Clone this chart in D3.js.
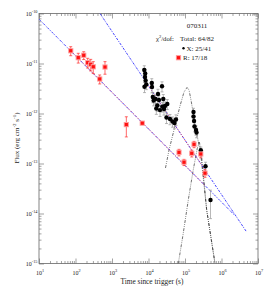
<!DOCTYPE html>
<html>
<head>
<meta charset="utf-8">
<script src="https://cdn.jsdelivr.net/npm/d3@7"></script>
<style>
body { margin: 0; background: #fff; }
svg text { font-family: "Liberation Serif", "DejaVu Serif", serif; fill: #222; }
</style>
</head>
<body>
<div id="chart"></div>
<script>
// X-ray points: time (s), flux (erg cm^-2 s^-1), error
var xrtTime = [7670, 8130, 8020, 8330, 8710, 7770, 12300, 12470, 13120, 13800, 15560, 18200,
  17420, 16370, 19400, 23440, 25410, 20650, 23880, 28310, 32730, 26600, 31120, 38810,
  45470, 51560, 56650, 1.71e5, 1.71e5, 1.77e5, 1.82e5, 2.0e5, 2.07e5, 2.71e5, 3.65e5, 5.0e5];
var xrtFlux = [7.41e-12, 6.31e-12, 5.37e-12, 4.57e-12, 3.80e-12, 3.42e-12, 4.07e-12, 3.39e-12,
  2.14e-12, 1.82e-12, 1.95e-12, 2.45e-12, 1.45e-12, 1.26e-12, 1.86e-12, 3.50e-12, 1.95e-12,
  1.17e-12, 1.37e-12, 1.41e-12, 1.55e-12, 1.23e-12, 8.3e-13, 7.76e-13, 6.92e-13, 6.46e-13,
  7.59e-13, 1.07e-12, 8.71e-13, 7.08e-13, 5.50e-13, 4.68e-13, 4.17e-13, 1.84e-13, 8.8e-14, 1.86e-14];
var xrtErr = [1.6e-12, 1.3e-12, 1.2e-12, 1.0e-12, 0.8e-12, 0.8e-12, 0.9e-12, 0.8e-12, 0.5e-12,
  0.4e-12, 0.4e-12, 0.6e-12, 0.35e-12, 0.3e-12, 0.45e-12, 0.8e-12, 0.45e-12, 0.3e-12, 0.3e-12,
  0.3e-12, 0.35e-12, 0.3e-12, 2.0e-13, 1.8e-13, 1.6e-13, 1.5e-13, 1.8e-13, 2.0e-13, 1.8e-13,
  1.5e-13, 1.2e-13, 1.0e-13, 0.9e-13, 0.3e-13, 1.8e-14, 1.07e-14];

// R band points
var rTime = [74, 119, 168, 216, 261, 307, 460, 643, 2470, 6760, 6.85e4, 9.4e4, 1.53e5, 1.77e5, 2.7e5, 3.53e5];
var rFlux = [1.80e-11, 1.31e-11, 1.46e-11, 1.04e-11, 9.6e-12, 8.6e-12, 4.9e-12, 8.5e-12,
  6.0e-13, 6.4e-13, 1.67e-13, 1.06e-13, 1.60e-13, 2.42e-13, 1.55e-13, 6.4e-14];
var rErr = [3.7e-12, 2.9e-12, 2.6e-12, 2.3e-12, 2.5e-12, 2.3e-12, 1.0e-12, 2.4e-12,
  2.6e-13, 0.4e-13, 0.25e-13, 0.15e-13, 0.25e-13, 0.35e-13, 0.25e-13, 1.1e-14];

// power-law components (end points)
var pl1Time = [10, 2.3e6];
var pl1Flux = [7.7e-11, 9.2e-15];
var pl2Time = [469, 4.7e6];
var pl2Flux = [1e-10, 4.45e-15];

// flare components
var flare1Time = [2.92e4, 3.65e4, 4.41e4, 5.66e4, 7.29e4, 9.4e4, 1.135e5, 1.29e5, 1.46e5,
  1.66e5, 1.94e5, 2.27e5, 2.66e5, 3.93e5, 6.64e5];
var flare1Flux = [8.13e-14, 1.86e-13, 3.24e-13, 6.76e-13, 1.41e-12, 2.69e-12, 3.31e-12, 2.95e-12,
  1.86e-12, 1.07e-12, 5.62e-13, 2.95e-13, 1.70e-13, 1.17e-14, 1e-15];
var flare2Time = [6.55e4, 8.81e4, 1.23e5, 1.66e5, 2.17e5, 2.47e5, 2.74e5, 3.93e5, 6.64e5];
var flare2Flux = [1e-15, 3.72e-15, 1.86e-14, 7.08e-14, 2.01e-13, 2.69e-13, 1.86e-13, 1.17e-14, 1e-15];

var xMajor = [1e1, 1e2, 1e3, 1e4, 1e5, 1e6, 1e7];
var yMajor = [1e-10, 1e-11, 1e-12, 1e-13, 1e-14, 1e-15];

var W = 270, H = 291;
var pl = 39, pr = 258, pt = 13.5, pb = 263.5;

var x = d3.scaleLog().domain([10, 1e7]).range([pl, pr]);
var y = d3.scaleLog().domain([1e-10, 1e-15]).range([pt, pb]);

var svg = d3.select("#chart").append("svg")
  .attr("width", W)
  .attr("height", H);

// minor ticks 2..9 in each decade
function minors(majors) {
  var out = [];
  majors.forEach(function (m) {
    if (m === d3.max(majors)) return;
    for (var k = 2; k <= 9; k++) out.push(m * k);
  });
  return out;
}
var xMinor = minors(xMajor);
var yMinor = minors(yMajor);

function ticks(axis, tx, ty, vals, size) {
  svg.append("g")
    .attr("transform", "translate(" + tx + "," + ty + ")")
    .call(axis.tickValues(vals).tickSize(size).tickFormat(""))
    .call(function (g) { g.select(".domain").remove(); })
    .selectAll("line")
    .attr("stroke", "#666")
    .attr("stroke-width", 0.6);
}
ticks(d3.axisBottom(x), 0, pb, xMajor, -5);
ticks(d3.axisBottom(x), 0, pb, xMinor, -2.5);
ticks(d3.axisTop(x), 0, pt, xMajor, -5);
ticks(d3.axisTop(x), 0, pt, xMinor, -2.5);
ticks(d3.axisLeft(y), pl, 0, yMajor, -5);
ticks(d3.axisLeft(y), pl, 0, yMinor, -2.5);
ticks(d3.axisRight(y), pr, 0, yMajor, -5);
ticks(d3.axisRight(y), pr, 0, yMinor, -2.5);

svg.append("rect")
  .attr("x", pl).attr("y", pt)
  .attr("width", pr - pl).attr("height", pb - pt)
  .attr("fill", "none").attr("stroke", "#666").attr("stroke-width", 0.8);

// tick labels
xMajor.forEach(function (v) {
  var t = svg.append("text")
    .attr("x", x(v) + 1).attr("y", 275)
    .attr("text-anchor", "middle").attr("font-size", 6);
  t.append("tspan").text("10");
  t.append("tspan").attr("dy", -2.6).attr("font-size", 4.3).text(Math.round(Math.log10(v)));
});
yMajor.forEach(function (v) {
  var t = svg.append("text")
    .attr("x", 37.5).attr("y", y(v) + 2)
    .attr("text-anchor", "end").attr("font-size", 6);
  t.append("tspan").text("10");
  t.append("tspan").attr("dy", -2.6).attr("font-size", 4.3).text(Math.round(Math.log10(v)));
});

// axis titles
svg.append("text")
  .attr("x", 152).attr("y", 283.5)
  .attr("text-anchor", "middle").attr("font-size", 7.3)
  .text("Time since trigger (s)");

var yt = svg.append("text")
  .attr("transform", "translate(18.5,138) rotate(-90)")
  .attr("text-anchor", "middle").attr("font-size", 7);
yt.append("tspan").text("Flux (erg  cm");
yt.append("tspan").attr("dy", -2.5).attr("font-size", 5).text("-2");
yt.append("tspan").attr("dy", 2.5).text(" s");
yt.append("tspan").attr("dy", -2.5).attr("font-size", 5).text("-1");
yt.append("tspan").attr("dy", 2.5).text(")");

// plot area
svg.append("clipPath").attr("id", "plot")
  .append("rect").attr("x", pl).attr("y", pt)
  .attr("width", pr - pl).attr("height", pb - pt);

var g = svg.append("g").attr("clip-path", "url(#plot)");

var line = d3.line()
  .x(function (d) { return x(d[0]); })
  .y(function (d) { return y(d[1]); });

function drawCurve(ts, fs, color, dash, w, clip) {
  g.append("path")
    .datum(d3.zip(ts, fs))
    .attr("d", line)
    .attr("fill", "none")
    .attr("stroke", color)
    .attr("stroke-width", w)
    .attr("stroke-dasharray", dash)
    .attr("clip-path", clip || null);
}

// clip ranges for the red overlays
var rSpan = d3.extent(rTime);
svg.append("clipPath").attr("id", "rspan1")
  .append("rect").attr("x", x(rSpan[0])).attr("y", pt)
  .attr("width", x(rSpan[1]) - x(rSpan[0])).attr("height", pb - pt);
svg.append("clipPath").attr("id", "rspan2")
  .append("rect").attr("x", x(d3.min(xrtTime))).attr("y", pt)
  .attr("width", x(rSpan[1]) - x(d3.min(xrtTime))).attr("height", pb - pt);

drawCurve(flare1Time, flare1Flux, "#333", "3,1.2,0.8,1.2,0.8,1.2", 0.7);
drawCurve(flare2Time, flare2Flux, "#333", "3,1.2,0.8,1.2,0.8,1.2", 0.7);
drawCurve(pl1Time, pl1Flux, "#3030ff", "2.5,1.2,1,1.2", 0.9);
drawCurve(pl2Time, pl2Flux, "#3030ff", "2.5,1.2,1,1.2", 0.9);
drawCurve(pl1Time, pl1Flux, "#ff3030", "1,1.5", 0.7, "url(#rspan1)");
drawCurve(pl2Time, pl2Flux, "#ff3030", "1,1.5", 0.7, "url(#rspan2)");

// error bars
function errBars(ts, fs, es, color) {
  var d = d3.zip(ts, fs, es);
  var eb = g.append("g").attr("stroke", color).attr("stroke-width", 0.7);
  eb.selectAll("line.v").data(d).enter().append("line")
    .attr("x1", function (p) { return x(p[0]); })
    .attr("x2", function (p) { return x(p[0]); })
    .attr("y1", function (p) { return y(p[1] + p[2]); })
    .attr("y2", function (p) { return y(Math.max(p[1] - p[2], 1e-16)); });
  [1, -1].forEach(function (s) {
    eb.selectAll("line.c" + s).data(d).enter().append("line")
      .attr("x1", function (p) { return x(p[0]) - 1.5; })
      .attr("x2", function (p) { return x(p[0]) + 1.5; })
      .attr("y1", function (p) { return y(p[1] + s * p[2]); })
      .attr("y2", function (p) { return y(p[1] + s * p[2]); });
  });
}
errBars(xrtTime, xrtFlux, xrtErr, "#9a9a9a");
errBars(rTime, rFlux, rErr, "#ff2a2a");

g.selectAll("circle.x").data(d3.zip(xrtTime, xrtFlux)).enter().append("circle")
  .attr("cx", function (d) { return x(d[0]); })
  .attr("cy", function (d) { return y(d[1]); })
  .attr("r", 2.2)
  .attr("fill", "#000");

function rMarker(sel) {
  sel.append("rect").attr("x", -2.6).attr("y", -2.6).attr("width", 5.2).attr("height", 5.2)
    .attr("fill", "#ff9a9a");
  sel.append("rect").attr("x", -1.6).attr("y", -1.6).attr("width", 3.2).attr("height", 3.2)
    .attr("fill", "#ff1010");
}
g.selectAll("g.r").data(d3.zip(rTime, rFlux)).enter().append("g")
  .attr("transform", function (d) { return "translate(" + x(d[0]) + "," + y(d[1]) + ")"; })
  .call(rMarker);

// legend
svg.append("text").attr("x", 197).attr("y", 27.5)
  .attr("text-anchor", "middle").attr("font-size", 7).text("070311");
var chi = svg.append("text").attr("x", 156).attr("y", 40.5).attr("font-size", 6.7);
chi.append("tspan").text("\u03c7");
chi.append("tspan").attr("dy", -2.5).attr("font-size", 4.6).text("2");
chi.append("tspan").attr("dy", 2.5).text("/dof:");
svg.append("text").attr("x", 180).attr("y", 40.5).attr("font-size", 7).text("Total: 64/82");
svg.append("circle").attr("cx", 183.5).attr("cy", 48.3).attr("r", 1.2).attr("fill", "#000");
svg.append("text").attr("x", 186.5).attr("y", 50.5).attr("font-size", 7).text("X: 25/41");
svg.append("g").attr("transform", "translate(178.5,57.7)").call(rMarker);
svg.append("text").attr("x", 183).attr("y", 60).attr("font-size", 7).text("R: 17/18");
</script>
</body>
</html>
